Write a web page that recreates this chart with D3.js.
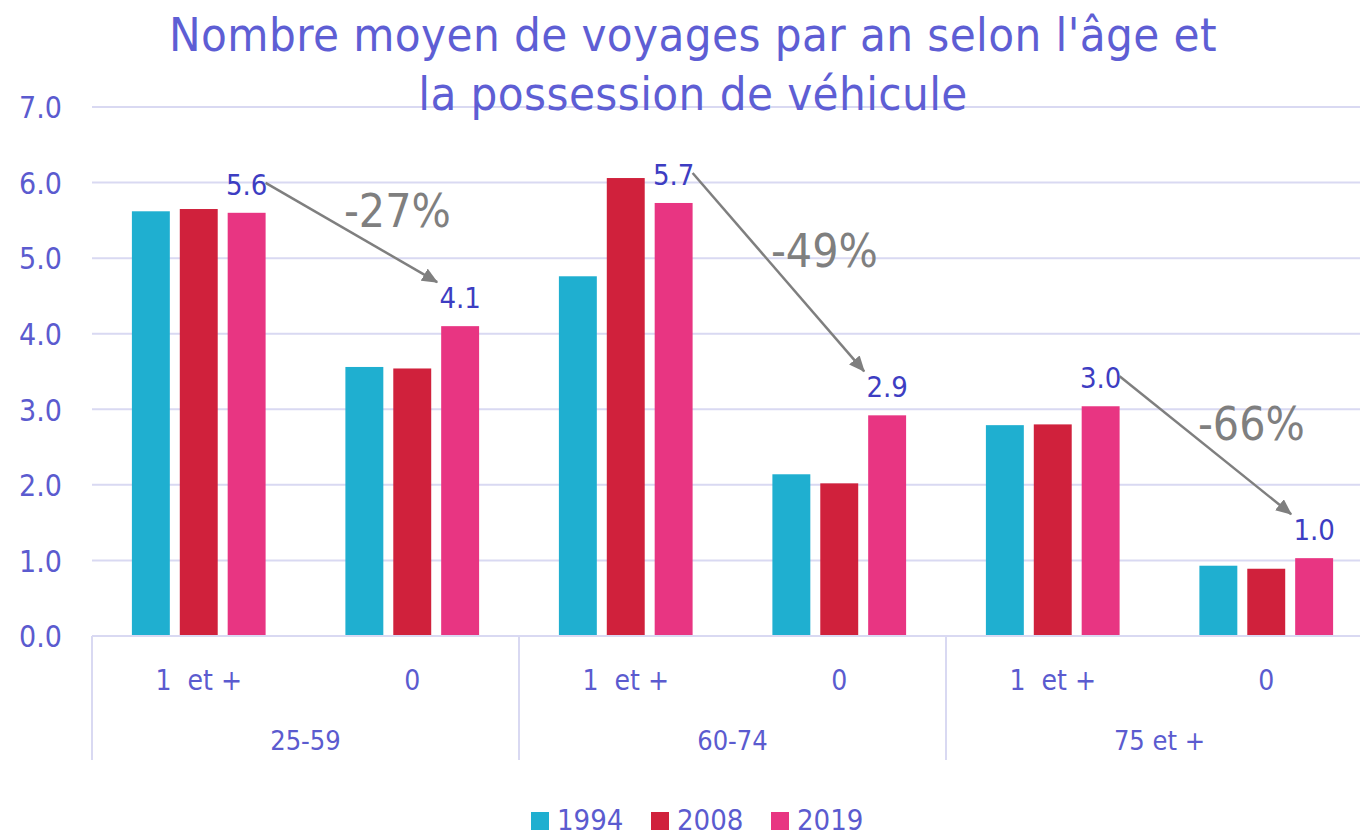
<!DOCTYPE html>
<html>
<head>
<meta charset="utf-8">
<script src="https://cdn.jsdelivr.net/npm/d3@7"></script>
<style>
  body { margin: 0; background: #fff; }
  svg text { font-family: "DejaVu Sans Condensed", "Liberation Sans", sans-serif; }
</style>
</head>
<body>
<main></main>
<script>
// data
const groups = ['25-59', '60-74', '75 et +'];
const subs = ['1  et +', '0'];
const years = ['1994', '2008', '2019'];
const colors = ['#1fafd0', '#d0213c', '#e83582'];

// values per group, sub, then year
const v1994 = [5.62, 3.56, 4.76, 2.14, 2.79, 0.93];
const v2008 = [5.65, 3.54, 6.06, 2.02, 2.80, 0.89];
const v2019 = [5.60, 4.10, 5.73, 2.92, 3.04, 1.03];
const yTicks = [0, 1, 2, 3, 4, 5, 6, 7];
const titleLines = ["Nombre moyen de voyages par an selon l'âge et", 'la possession de véhicule'];

const WIDTH = 1360, HEIGHT = 838;
const plotLeft = 92, plotRight = 1360, plotTop = 107, plotBottom = 636;

const svg = d3.select('main').append('svg')
  .attr('width', WIDTH)
  .attr('height', HEIGHT);

const series = [v1994, v2008, v2019];
const cells = [];
groups.forEach((g, gi) => subs.forEach((s, si) => cells.push({ g, s, key: g + '|' + s, i: gi * 2 + si })));

const y = d3.scaleLinear().domain([0, 7]).range([plotBottom, plotTop]);
const xGroup = d3.scaleBand().domain(groups).range([plotLeft, plotLeft + 3 * 427]);
const xCell = d3.scaleBand().domain(cells.map(c => c.key)).range([plotLeft, plotLeft + 6 * 213.5]);
const xBar = d3.scaleBand().domain(years).range([0, xCell.bandwidth()]).paddingInner(0.208).paddingOuter(0.833);

const axisColor = '#5b5bcf';
const gridColor = '#d9d9f2';

// grid
svg.append('g')
  .selectAll('line')
  .data(yTicks.slice(1))
  .enter()
  .append('line')
  .attr('x1', plotLeft).attr('x2', plotRight)
  .attr('y1', d => y(d)).attr('y2', d => y(d))
  .attr('stroke', gridColor)
  .attr('stroke-width', 2);

// y axis labels
const yAxis = svg.append('g')
  .attr('transform', `translate(${plotLeft - 30},0)`)
  .call(d3.axisLeft(y).tickValues(yTicks).tickFormat(d3.format('.1f')).tickSize(0).tickPadding(0));
yAxis.select('.domain').remove();
yAxis.selectAll('text')
  .attr('fill', axisColor)
  .attr('font-size', 30)
  .attr('font-family', null)
  .attr('dy', '0.36em');

// bars
series.forEach((vals, si) => {
  svg.append('g')
    .selectAll('rect')
    .data(cells)
    .enter()
    .append('rect')
    .attr('x', c => xCell(c.key) + xBar(years[si]))
    .attr('y', c => y(vals[c.i]))
    .attr('width', xBar.bandwidth())
    .attr('height', c => y(0) - y(vals[c.i]))
    .attr('fill', colors[si]);
});

// x axis line and separators
svg.append('line')
  .attr('x1', plotLeft).attr('x2', plotRight)
  .attr('y1', plotBottom).attr('y2', plotBottom)
  .attr('stroke', gridColor).attr('stroke-width', 2);

svg.append('g')
  .selectAll('line')
  .data(groups)
  .enter()
  .append('line')
  .attr('x1', d => xGroup(d)).attr('x2', d => xGroup(d))
  .attr('y1', plotBottom).attr('y2', 760)
  .attr('stroke', gridColor).attr('stroke-width', 2);

svg.append('g')
  .selectAll('text')
  .data(cells)
  .enter()
  .append('text')
  .attr('x', c => xCell(c.key) + xCell.bandwidth() / 2)
  .attr('y', 690)
  .attr('text-anchor', 'middle')
  .attr('fill', axisColor)
  .attr('font-size', 28)
  .style('white-space', 'pre')
  .text(c => c.s);

svg.append('g')
  .selectAll('text')
  .data(groups)
  .enter()
  .append('text')
  .attr('x', d => xGroup(d) + xGroup.bandwidth() / 2)
  .attr('y', 750)
  .attr('text-anchor', 'middle')
  .attr('fill', axisColor)
  .attr('font-size', 27)
  .text(d => d);

// 2019 value labels and change arrows
const labelColor = '#3d3dc2';
const arrowColor = '#7f7f7f';
const x2019 = c => xCell(c.key) + xBar('2019');

svg.append('defs').append('marker')
  .attr('id', 'arrowhead')
  .attr('viewBox', '0 0 16 14')
  .attr('refX', 15).attr('refY', 7)
  .attr('markerUnits', 'userSpaceOnUse')
  .attr('markerWidth', 16).attr('markerHeight', 14)
  .attr('orient', 'auto')
  .append('path')
  .attr('d', 'M0,0 L16,7 L0,14 z')
  .attr('fill', arrowColor);

svg.append('g')
  .selectAll('text')
  .data(cells)
  .enter()
  .append('text')
  .attr('x', c => x2019(c) + xBar.bandwidth() / 2)
  .attr('y', c => y(v2019[c.i]) - 18)
  .attr('text-anchor', 'middle')
  .attr('fill', labelColor)
  .attr('font-size', 29)
  .text(c => d3.format('.1f')(v2019[c.i]));

groups.forEach((g, gi) => {
  const a = cells[gi * 2], b = cells[gi * 2 + 1];
  const x1 = x2019(a) + xBar.bandwidth();
  const y1 = y(v2019[a.i]) - 30;
  const x2 = x2019(b) - 4;
  const y2 = y(v2019[b.i]) - 44;
  svg.append('line')
    .attr('x1', x1).attr('y1', y1)
    .attr('x2', x2).attr('y2', y2)
    .attr('stroke', arrowColor)
    .attr('stroke-width', 2.5)
    .attr('marker-end', 'url(#arrowhead)');
  const change = v2019[b.i] / v2019[a.i] - 1;
  svg.append('text')
    .attr('x', (x1 + x2) / 2 + 46)
    .attr('y', (y1 + y2) / 2 - 5)
    .attr('text-anchor', 'middle')
    .attr('fill', arrowColor)
    .attr('font-size', 46)
    .text(Math.round(change * 100) + '%');
});

// title
svg.append('g')
  .selectAll('text')
  .data(titleLines)
  .enter()
  .append('text')
  .attr('x', 693)
  .attr('y', (d, i) => 51 + i * 59)
  .attr('text-anchor', 'middle')
  .attr('fill', '#5e5ed4')
  .attr('font-size', 47)
  .attr('letter-spacing', 0.4)
  .text(d => d);

// legend
const legend = svg.append('g')
  .selectAll('g')
  .data(years)
  .enter()
  .append('g')
  .attr('transform', (d, i) => `translate(${531 + i * 120},812)`);
legend.append('rect')
  .attr('width', 18).attr('height', 18)
  .attr('fill', (d, i) => colors[i]);
legend.append('text')
  .attr('x', 26).attr('y', 18)
  .attr('fill', axisColor)
  .attr('font-size', 29)
  .text(d => d);
</script>
</body>
</html>
